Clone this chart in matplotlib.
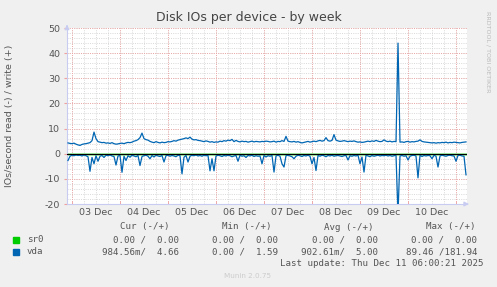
import numpy as np
import matplotlib
matplotlib.use("Agg")
import matplotlib.pyplot as plt

# ---- data (hourly averages, starting Dec 2 22:00) ----
vda_write = [
    4.3,4.1,4.0,4.2,3.8,3.5,3.3,3.7,3.9,4.0,4.2,4.4,5.2,8.6,6.0,4.8,4.6,4.4,4.5,4.2,
    4.3,4.1,4.4,4.0,3.8,3.9,4.1,4.2,4.0,4.3,4.5,4.4,4.6,5.0,5.2,5.6,6.4,8.2,6.0,5.6,
    5.4,4.9,4.6,4.4,4.8,4.5,4.3,4.6,4.4,4.5,4.8,4.7,4.9,5.2,5.0,5.4,5.6,5.8,6.0,6.3,
    6.0,6.6,5.8,5.5,5.6,5.3,5.2,5.0,4.8,5.1,4.9,4.6,4.8,4.5,4.7,4.6,5.0,4.8,5.2,5.0,
    5.4,5.2,5.7,4.8,5.3,4.9,4.7,5.0,4.8,4.9,4.6,4.8,5.0,4.7,4.9,4.8,4.7,4.9,4.8,5.0,
    4.9,4.7,4.8,5.0,4.6,4.9,4.8,5.2,4.9,6.9,5.0,4.8,4.7,4.9,4.6,4.8,4.5,4.3,4.5,4.7,
    4.9,4.6,4.8,5.0,4.8,5.1,5.3,5.0,5.2,6.4,5.2,5.0,5.3,7.6,5.4,5.1,4.9,5.0,5.2,5.0,
    4.8,5.0,4.9,5.1,4.8,4.6,4.7,4.5,4.6,4.8,5.0,4.8,5.1,4.9,5.3,5.0,4.8,4.9,5.5,5.0,
    4.8,5.0,4.7,4.9,4.8,44.0,4.6,4.7,4.5,4.8,4.9,4.6,4.8,4.7,4.9,5.0,5.5,4.9,4.7,4.6,
    4.5,4.4,4.3,4.4,4.2,4.4,4.3,4.5,4.4,4.6,4.3,4.5,4.4,4.6,4.5,4.4,4.3,4.5,4.6,4.7,
]
vda_read = [
    -2.7,-1.0,-0.6,-0.8,-0.5,-0.7,-0.6,-0.9,-0.5,-0.8,-1.2,-7.0,-1.5,-4.0,-0.8,-3.0,-1.0,-0.7,-1.5,-0.6,
    -0.8,-0.5,-0.9,-1.1,-4.5,-0.9,-0.7,-7.4,-1.0,-2.7,-0.8,-1.4,-0.6,-0.9,-1.2,-0.7,-4.7,-1.1,-0.8,-0.6,
    -1.0,-2.0,-0.7,-1.3,-0.6,-0.9,-1.1,-0.7,-3.3,-0.8,-0.6,-1.0,-0.7,-0.9,-1.2,-0.6,-0.8,-8.0,-1.4,-0.7,
    -3.3,-1.0,-0.6,-0.8,-0.5,-0.9,-0.7,-1.0,-0.6,-0.8,-0.7,-6.8,-2.0,-6.8,-0.9,-0.6,-0.8,-1.1,-0.7,-0.9,
    -0.6,-0.8,-1.2,-0.9,-0.7,-3.0,-0.6,-1.0,-0.8,-1.5,-0.7,-0.9,-0.6,-1.1,-0.8,-1.0,-0.9,-4.0,-0.7,-1.3,
    -0.8,-1.0,-0.7,-7.3,-0.9,-0.6,-1.0,-4.0,-5.3,-0.8,-0.6,-0.9,-1.2,-2.0,-1.0,-0.6,-0.8,-1.1,-0.7,-0.9,
    -0.6,-1.0,-4.0,-1.5,-6.7,-0.7,-1.0,-0.6,-0.8,-1.2,-0.7,-0.9,-0.6,-1.0,-0.8,-0.7,-0.9,-1.1,-0.8,-0.7,
    -2.5,-0.8,-1.0,-0.7,-0.9,-0.6,-4.0,-1.3,-7.3,-0.6,-0.9,-1.2,-0.7,-1.0,-0.8,-0.6,-0.9,-0.7,-0.8,-0.6,
    -0.9,-0.7,-1.0,-0.8,-0.6,-24.0,-0.9,-0.7,-1.0,-0.8,-2.5,-1.0,-0.7,-0.6,-0.9,-9.6,-0.6,-1.1,-0.7,-0.9,
    -0.7,-0.8,-2.0,-0.6,-1.0,-5.3,-0.9,-0.6,-0.8,-1.0,-0.7,-0.6,-0.8,-0.9,-3.0,-0.7,-0.6,-0.9,-1.0,-8.4,
]
sr0_write = [0.0] * len(vda_write)
sr0_read = [0.0] * len(vda_read)

day_labels = ["03 Dec", "04 Dec", "05 Dec", "06 Dec", "07 Dec", "08 Dec", "09 Dec", "10 Dec"]
first_midnight_hour = 2          # Dec 3 00:00 is 2 h after the first sample
y_ticks = [-20, -10, 0, 10, 20, 30, 40, 50]

legend_names = ["sr0", "vda"]
legend_colors = ["#00CC00", "#0066B3"]
legend_cur = ["    0.00 /  0.00", "984.56m/  4.66"]
legend_min = ["0.00 /  0.00", "0.00 /  1.59"]
legend_avg = ["    0.00 /  0.00", "902.61m/  5.00"]
legend_max = ["0.00 /  0.00", "89.46 /181.94"]
last_update = "Last update: Thu Dec 11 06:00:21 2025"

# ---- figure ----
W, H = 497, 287
fig = plt.figure(figsize=(W / 100, H / 100), dpi=100, facecolor="#F0F0F0")
L, R, T, B = 67, 467, 28, 204
ax = fig.add_axes([L / W, 1 - B / H, (R - L) / W, (B - T) / H])
ax.set_facecolor("white")

n = len(vda_write)
hours = np.arange(n)
ax.set_xlim(-0.5, n - 0.5)
ax.set_ylim(-20, 50)

# grids
dot = (0, (1.2, 1.5))
minor_x = np.arange(first_midnight_hour, n, 6)
major_x = np.arange(first_midnight_hour, n, 24)
for x in minor_x:
    ax.axvline(x, color="#D4D4D4", lw=0.6, ls=dot, zorder=0)
for y in range(-20, 51, 2):
    ax.axhline(y, color="#D4D4D4", lw=0.6, ls=dot, zorder=0)
for x in major_x:
    ax.axvline(x, color="#F0A0A0", lw=0.6, ls=dot, zorder=0.5)
for y in y_ticks:
    ax.axhline(y, color="#F0A0A0", lw=0.6, ls=dot, zorder=0.5)

# data
ax.plot(hours, sr0_write, color=legend_colors[0], lw=1, zorder=2)
ax.plot(hours, sr0_read, color=legend_colors[0], lw=1, zorder=2)
ax.plot(hours, vda_write, color=legend_colors[1], lw=0.9, zorder=3)
ax.plot(hours, vda_read, color=legend_colors[1], lw=0.9, zorder=3)
ax.axhline(0, color="black", lw=0.8, zorder=4)

# axes styling
for s in ["top", "right"]:
    ax.spines[s].set_visible(False)
for s in ["left", "bottom"]:
    ax.spines[s].set_color("#C8CCF0")
    ax.spines[s].set_linewidth(0.8)
ax.annotate("", xy=(1.012, 0), xytext=(0.99, 0), xycoords="axes fraction",
            arrowprops=dict(arrowstyle="-|>", color="#C8CCF0", lw=0.8, mutation_scale=7),
            annotation_clip=False)
ax.annotate("", xy=(0, 1.035), xytext=(0, 0.99), xycoords="axes fraction",
            arrowprops=dict(arrowstyle="-|>", color="#C8CCF0", lw=0.8, mutation_scale=7),
            annotation_clip=False)

ax.set_yticks(y_ticks)
ax.set_yticklabels([str(v) for v in y_ticks])
ax.set_xticks(major_x[:len(day_labels)] + 12)
ax.set_xticklabels(day_labels)
ax.set_xticks(major_x, minor=True)
ax.tick_params(axis="both", which="major", length=0, labelsize=6.8, colors="#555555", pad=3)
ax.tick_params(axis="x", which="minor", length=2, color="#F0A0A0", direction="in")
ax.tick_params(axis="y", which="major", length=2, color="#F0A0A0", direction="out", pad=3)

# texts
fig.text(0.5, 1 - 18 / H, "Disk IOs per device - by week", ha="center", va="center",
         fontsize=9, color="#444444")
fig.text(10 / W, 1 - 116 / H, "IOs/second read (-) / write (+)", rotation=90,
         ha="center", va="center", fontsize=6.8, color="#555555")
fig.text(488 / W, 1 - 52 / H, "RRDTOOL / TOBI OETIKER", rotation=270, ha="center",
         va="center", fontsize=4.6, color="#BBBBBB")

mono = dict(family="DejaVu Sans Mono", fontsize=6.6, color="#555555")
hy = 1 - 227 / H
for txt, xr in [("Cur (-/+)", 169), ("Min (-/+)", 272), ("Avg (-/+)", 373), ("Max (-/+)", 476)]:
    fig.text(xr / W, hy, txt, ha="right", va="center", **mono)
for i, name in enumerate(legend_names):
    yy = 1 - (240 + 12 * i) / H
    fig.patches.append(plt.Rectangle((13 / W, yy - 3 / H), 6 / W, 6 / H,
                                     transform=fig.transFigure, color=legend_colors[i]))
    fig.text(27 / W, yy, name, ha="left", va="center", **mono)
    fig.text(179 / W, yy, legend_cur[i], ha="right", va="center", **mono)
    fig.text(278 / W, yy, legend_min[i], ha="right", va="center", **mono)
    fig.text(378 / W, yy, legend_avg[i], ha="right", va="center", **mono)
    fig.text(477 / W, yy, legend_max[i], ha="right", va="center", **mono)
fig.text(483 / W, 1 - 263 / H, last_update, ha="right", va="center", **mono)
fig.text(248 / W, 1 - 276 / H, "Munin 2.0.75", ha="center", va="center",
         fontsize=5.2, color="#CCCCCC")

fig.savefig("out.png", dpi=100, facecolor=fig.get_facecolor())
